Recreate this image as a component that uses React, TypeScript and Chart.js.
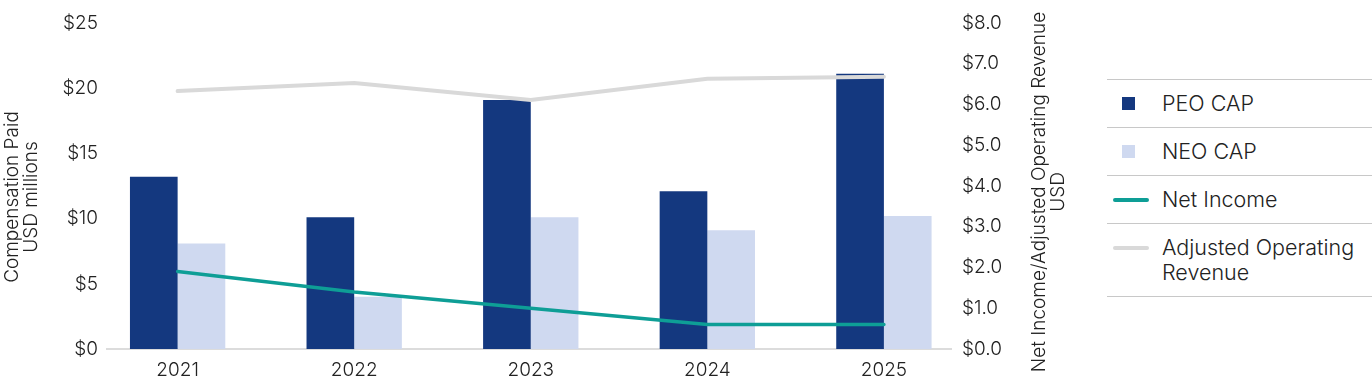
import React, { useEffect, useRef } from "react";
import { Chart, registerables } from "chart.js";

Chart.register(...registerables);

// ---- data ----
const years = [2021, 2022, 2023, 2024, 2025];
const peoCap = [13.2, 10.1, 19.1, 12.1, 21.1];
const neoCap = [8.1, 4.0, 10.1, 9.1, 10.2];
const netIncome = [1.9, 1.4, 1.0, 0.6, 0.6];
const adjOpRevenue = [6.33, 6.53, 6.11, 6.63, 6.68];
const leftTicks = [0, 5, 10, 15, 20, 25];
const rightTicks = [0, 1, 2, 3, 4, 5, 6, 7, 8];
const leftTitle = ["Compensation Paid", "USD millions"];
const rightTitle = ["Net Income/Adjusted Operating Revenue", "USD"];

// ---- styles ----
const NAVY = "#14387f";
const LIGHT = "#cfd9f0";
const TEAL = "#0e9e96";
const GRAY = "#d9d9d9";
const TEXT = "#222222";
const FONT = "Inter, 'Noto Sans', sans-serif";
const W = 1090;
const H = 384;

const titlePlugin = {
  id: "rotTitles",
  afterDraw(chart: any) {
    const ctx = chart.ctx;
    const drawRot = (lines: string[], x0: number, cy: number) => {
      lines.forEach((t, i) => {
        ctx.save();
        ctx.translate(x0 + i * 19, cy);
        ctx.rotate(-Math.PI / 2);
        ctx.fillText(t, 0, 0);
        ctx.restore();
      });
    };
    ctx.save();
    ctx.fillStyle = TEXT;
    ctx.font = `300 19px ${FONT}`;
    ctx.textAlign = "center";
    ctx.textBaseline = "middle";
    drawRot(leftTitle, chart.scales.y.left + 12, 197);
    drawRot(rightTitle, chart.scales.y1.right - 51, 192);
    ctx.restore();
  },
};

function ChartCanvas() {
  const ref = useRef<HTMLCanvasElement | null>(null);
  useEffect(() => {
    if (!ref.current) return;
    const tickFont = { family: FONT, size: 19, weight: 300 as any };
    const chart = new Chart(ref.current, {
      type: "bar",
      data: {
        datasets: [
          {
            type: "line",
            label: "Net Income",
            data: years.map((x, i) => ({ x, y: netIncome[i] })),
            yAxisID: "y1",
            borderColor: TEAL,
            backgroundColor: TEAL,
            borderWidth: 3.5,
            pointRadius: 0,
            tension: 0,
            borderCapStyle: "round",
            order: 0,
          },
          {
            type: "line",
            label: "Adjusted Operating Revenue",
            data: years.map((x, i) => ({ x, y: adjOpRevenue[i] })),
            yAxisID: "y1",
            borderColor: GRAY,
            backgroundColor: GRAY,
            borderWidth: 4,
            pointRadius: 0,
            tension: 0,
            borderCapStyle: "round",
            order: 0,
          },
          {
            type: "bar",
            label: "PEO CAP",
            data: years.map((x, i) => ({ x, y: peoCap[i] })),
            yAxisID: "y",
            backgroundColor: NAVY,
            categoryPercentage: 0.54,
            barPercentage: 1,
            order: 1,
          },
          {
            type: "bar",
            label: "NEO CAP",
            data: years.map((x, i) => ({ x, y: neoCap[i] })),
            yAxisID: "y",
            backgroundColor: LIGHT,
            categoryPercentage: 0.54,
            barPercentage: 1,
            order: 1,
          },
        ] as any,
      },
      options: {
        responsive: false,
        animation: false,
        devicePixelRatio: 1,
        layout: { padding: { top: 23, left: 0, right: 0, bottom: 0 } },
        plugins: {
          legend: { display: false },
          tooltip: { enabled: false },
        },
        scales: {
          x: {
            type: "linear",
            min: years[0] - 0.4,
            max: years[years.length - 1] + 0.38,
            offset: false,
            grid: { display: false, drawTicks: false },
            border: { display: true, color: "#dcdcdc", width: 2 },
            afterBuildTicks: (axis: any) => {
              axis.ticks = years.map((v) => ({ value: v }));
            },
            afterFit: (scale: any) => {
              scale.height = 35;
            },
            ticks: {
              padding: 10,
              color: TEXT,
              font: tickFont,
              callback: (v: any) => String(v),
            },
          },
          y: {
            type: "linear",
            position: "left",
            min: 0,
            max: 25,
            grid: { display: false, drawTicks: false },
            border: { display: false },
            afterBuildTicks: (axis: any) => {
              axis.ticks = leftTicks.map((v) => ({ value: v }));
            },
            afterFit: (scale: any) => {
              scale.width = 107;
            },
            ticks: {
              padding: 9,
              color: TEXT,
              font: tickFont,
              callback: (v: any) => "$" + v,
            },
          },
          y1: {
            type: "linear",
            position: "right",
            min: 0,
            max: 8,
            grid: { display: false, drawTicks: false },
            border: { display: false },
            afterBuildTicks: (axis: any) => {
              axis.ticks = rightTicks.map((v) => ({ value: v }));
            },
            afterFit: (scale: any) => {
              scale.width = W - 951;
            },
            ticks: {
              padding: 11,
              color: TEXT,
              font: tickFont,
              callback: (v: any) => "$" + Number(v).toFixed(1),
            },
          },
        },
      } as any,
      plugins: [titlePlugin],
    });
    return () => chart.destroy();
  }, []);
  return <canvas ref={ref} width={W} height={H} style={{ display: "block" }} />;
}

const legendItems = [
  { label: ["PEO CAP"], kind: "box", color: NAVY },
  { label: ["NEO CAP"], kind: "box", color: LIGHT },
  { label: ["Net Income"], kind: "line", color: TEAL },
  { label: ["Adjusted Operating", "Revenue"], kind: "line", color: GRAY },
];

function Legend() {
  return (
    <div
      style={{
        position: "absolute",
        left: 1107,
        top: 79,
        width: 265,
        fontFamily: FONT,
        fontSize: 21.5,
        fontWeight: 300,
        color: TEXT,
        borderBottom: "1px solid #c8c8c8",
      }}
    >
      {legendItems.map((it, i) => (
        <div
          key={i}
          style={{
            borderTop: "1px solid #c8c8c8",
            padding: "11px 0",
            display: "flex",
            alignItems: "flex-start",
            lineHeight: "25px",
          }}
        >
          <div style={{ width: 55, height: 25, position: "relative", flex: "none" }}>
            {it.kind === "box" ? (
              <div
                style={{
                  position: "absolute",
                  left: 15,
                  top: 6,
                  width: 13,
                  height: 13,
                  background: it.color,
                }}
              />
            ) : (
              <div
                style={{
                  position: "absolute",
                  left: 6,
                  top: 11,
                  width: 36,
                  height: 4,
                  borderRadius: 2,
                  background: it.color,
                }}
              />
            )}
          </div>
          <div>
            {it.label.map((l, j) => (
              <div key={j}>{l}</div>
            ))}
          </div>
        </div>
      ))}
    </div>
  );
}

export default function App() {
  return (
    <div
      style={{
        position: "fixed",
        left: 0,
        top: 0,
        width: 1372,
        height: 384,
        background: "#ffffff",
      }}
    >
      <ChartCanvas />
      <Legend />
    </div>
  );
}
